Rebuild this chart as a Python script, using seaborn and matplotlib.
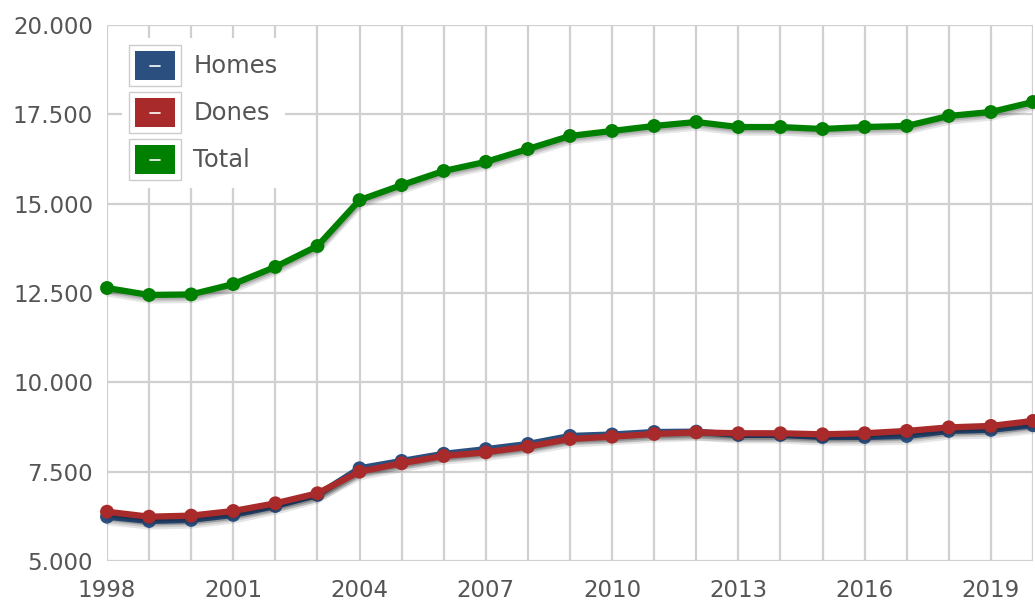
import matplotlib
matplotlib.use("Agg")
import matplotlib.pyplot as plt
import matplotlib.patheffects as pe
from matplotlib.patches import Rectangle, Patch
from matplotlib.lines import Line2D
from matplotlib.legend_handler import HandlerBase
from matplotlib.ticker import FuncFormatter, MultipleLocator
import seaborn as sns
import pandas as pd

years = list(range(1998, 2021))
homes = [6240, 6120, 6150, 6290, 6540, 6850, 7595, 7800, 8000, 8130, 8275, 8500,
         8540, 8610, 8620, 8530, 8530, 8470, 8470, 8500, 8640, 8670, 8800]
dones = [6380, 6240, 6270, 6400, 6615, 6895, 7500, 7735, 7940, 8040, 8200, 8415,
         8480, 8555, 8600, 8575, 8575, 8545, 8575, 8640, 8740, 8780, 8920]
total = [12640, 12445, 12460, 12750, 13230, 13815, 15100, 15520, 15915, 16170, 16530, 16895,
         17035, 17175, 17285, 17145, 17145, 17090, 17145, 17175, 17455, 17565, 17845]
series_names = ["Homes", "Dones", "Total"]
colors = {"Homes": "#2b4f7e", "Dones": "#a82a2a", "Total": "#008000"}

df = pd.concat([
    pd.DataFrame({"year": years, "value": homes, "serie": "Homes"}),
    pd.DataFrame({"year": years, "value": dones, "serie": "Dones"}),
    pd.DataFrame({"year": years, "value": total, "serie": "Total"}),
])

sns.set_theme(style="white")
plt.rcParams["font.family"] = ["DejaVu Sans"]

fig = plt.figure(figsize=(10.35, 6.02), dpi=100)
ax = fig.add_axes([107 / 1035, 41 / 602, (1033 - 107) / 1035, (561 - 25) / 602])

sns.lineplot(data=df, x="year", y="value", hue="serie", hue_order=series_names,
             palette=colors, marker="o", markersize=10, markeredgewidth=0,
             linewidth=4.5, legend=False, ax=ax, zorder=3)

for line in ax.get_lines():
    line.set_clip_on(False)
    line.set_path_effects([
        pe.SimpleLineShadow(offset=(0.5, -4), shadow_color="#000000", alpha=0.10),
        pe.SimpleLineShadow(offset=(0.5, -2.5), shadow_color="#000000", alpha=0.12),
        pe.SimpleLineShadow(offset=(0.5, -1.2), shadow_color="#000000", alpha=0.15),
        pe.Normal(),
    ])

ax.set_xlim(1998, 2020)
ax.set_ylim(5000, 20000)
ax.xaxis.set_major_locator(MultipleLocator(3))
ax.xaxis.set_minor_locator(MultipleLocator(1))
ax.yaxis.set_major_locator(MultipleLocator(2500))
ax.yaxis.set_major_formatter(FuncFormatter(lambda v, p: f"{int(v):,}".replace(",", ".")))
ax.xaxis.set_major_formatter(FuncFormatter(lambda v, p: f"{int(v)}"))

ax.grid(True, which="both", axis="x", color="#d0d0d0", linewidth=1.6)
ax.grid(True, which="major", axis="y", color="#d0d0d0", linewidth=1.6)
ax.set_axisbelow(True)
for s in ax.spines.values():
    s.set_visible(False)
ax.tick_params(axis="both", which="both", length=0, labelsize=16.5, labelcolor="#555555")
ax.tick_params(axis="y", pad=10)
ax.tick_params(axis="x", pad=13)
ax.set_xlabel("")
ax.set_ylabel("")


class SwatchHandler(HandlerBase):
    def create_artists(self, legend, orig_handle, xdescent, ydescent, width, height,
                       fontsize, trans):
        color = orig_handle.get_facecolor()
        x0, y0 = -xdescent, -ydescent
        outer = Rectangle((x0, y0), width, height, facecolor="white",
                          edgecolor="#cccccc", lw=1, transform=trans)
        mx, my = width * 0.12, height * 0.14
        inner = Rectangle((x0 + mx, y0 + my), width - 2 * mx, height - 2 * my,
                          facecolor=color, edgecolor="none", transform=trans)
        cx, cy = x0 + width / 2, y0 + height / 2
        dash = Line2D([cx - 3.5, cx + 3.5], [cy, cy], color="white", lw=1.2,
                      transform=trans)
        return [outer, inner, dash]


handles = [Patch(facecolor=colors[n], label=n) for n in series_names]
fs = 17.5
leg = ax.legend(handles=handles, loc="upper left",
                bbox_to_anchor=((22 - 7.3) / 926, 1 - (20 - 7.3) / 536),
                handler_map={Patch: SwatchHandler()}, fontsize=fs,
                handlelength=2.14, handleheight=2.22, labelspacing=0.25,
                handletextpad=0.5, borderpad=0.3, borderaxespad=0,
                frameon=True, fancybox=False)
leg.get_frame().set_facecolor("white")
leg.get_frame().set_edgecolor("none")
leg.get_frame().set_alpha(1)
leg.set_zorder(5)
for t in leg.get_texts():
    t.set_color("#555555")

fig.savefig("out.png", dpi=100)
